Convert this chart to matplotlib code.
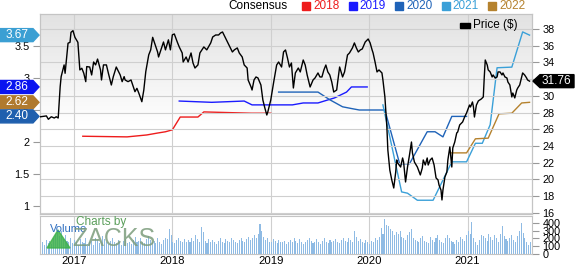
import numpy as np
import matplotlib.pyplot as plt
from matplotlib.patches import Polygon, Rectangle
from matplotlib.colors import LinearSegmentedColormap
from matplotlib.transforms import IdentityTransform

plt.rcParams['font.family'] = ['Liberation Sans', 'DejaVu Sans']

# price ($), decimal year
price_t = [2016.66, 2016.72, 2016.74, 2016.77, 2016.80, 2016.82, 2016.84, 2016.86, 2016.87, 2016.90,
           2016.91, 2016.94, 2016.96, 2016.97, 2016.99, 2017.01, 2017.04, 2017.06, 2017.08, 2017.10,
           2017.12, 2017.13, 2017.16, 2017.18, 2017.20, 2017.22, 2017.24, 2017.27, 2017.28, 2017.30,
           2017.33, 2017.35, 2017.38, 2017.40, 2017.43, 2017.47, 2017.49, 2017.51, 2017.52, 2017.55,
           2017.58, 2017.62, 2017.64, 2017.66, 2017.69, 2017.71, 2017.73, 2017.76, 2017.78, 2017.80,
           2017.82, 2017.85, 2017.86, 2017.89, 2017.91, 2017.93, 2017.96, 2017.98, 2018.00, 2018.02,
           2018.05, 2018.07, 2018.10, 2018.11, 2018.14, 2018.16, 2018.19, 2018.21, 2018.23, 2018.26,
           2018.28, 2018.32, 2018.35, 2018.39, 2018.41, 2018.44, 2018.47, 2018.49, 2018.51, 2018.54,
           2018.56, 2018.59, 2018.61, 2018.63, 2018.66, 2018.68, 2018.71, 2018.73, 2018.76, 2018.77,
           2018.80, 2018.81, 2018.83, 2018.85, 2018.87, 2018.90, 2018.92, 2018.94, 2018.96, 2018.97,
           2019.00, 2019.03, 2019.06, 2019.08, 2019.11, 2019.13, 2019.15, 2019.17, 2019.19, 2019.21,
           2019.23, 2019.25, 2019.28, 2019.30, 2019.33, 2019.35, 2019.37, 2019.40, 2019.43, 2019.45,
           2019.48, 2019.50, 2019.52, 2019.54, 2019.56, 2019.58, 2019.60, 2019.62, 2019.64, 2019.67,
           2019.68, 2019.70, 2019.73, 2019.75, 2019.78, 2019.80, 2019.83, 2019.85, 2019.87, 2019.89,
           2019.91, 2019.93, 2019.96, 2019.99, 2020.01, 2020.03, 2020.04, 2020.06, 2020.08, 2020.10,
           2020.13, 2020.14, 2020.16, 2020.18, 2020.19, 2020.21, 2020.23, 2020.25, 2020.27, 2020.28,
           2020.29, 2020.32, 2020.34, 2020.35, 2020.37, 2020.39, 2020.41, 2020.43, 2020.44, 2020.46,
           2020.49, 2020.52, 2020.54, 2020.55, 2020.57, 2020.59, 2020.60, 2020.62, 2020.64, 2020.66,
           2020.68, 2020.70, 2020.71, 2020.73, 2020.74, 2020.75, 2020.77, 2020.79, 2020.80, 2020.82,
           2020.84, 2020.85, 2020.87, 2020.89, 2020.90, 2020.92, 2020.95, 2020.97, 2020.99, 2021.02,
           2021.03, 2021.05, 2021.06, 2021.07, 2021.09, 2021.11, 2021.14, 2021.16, 2021.17, 2021.18,
           2021.20, 2021.21, 2021.23, 2021.25, 2021.26, 2021.28, 2021.30, 2021.31, 2021.33, 2021.35,
           2021.36, 2021.38, 2021.40, 2021.41, 2021.43, 2021.45, 2021.46, 2021.48, 2021.50, 2021.51,
           2021.53, 2021.55, 2021.56, 2021.58, 2021.60, 2021.61, 2021.63]
price = [27.5, 27.6, 27.2, 27.5, 27.35, 27.5, 27.35, 31.1, 32.3, 33.7,
         32.7, 36.3, 36.4, 37.6, 37.8, 37.0, 36.4, 33.1, 33.3, 32.7,
         31.7, 33.5, 33.45, 32.5, 34.05, 33.7, 34.4, 33.1, 31.9, 33.7,
         33.7, 32.7, 31.3, 32.3, 33.45, 32.5, 31.7, 32.3, 31.9, 31.7,
         31.9, 30.5, 30.9, 30.3, 29.3, 30.7, 32.9, 34.9, 35.5, 37.0,
         36.3, 35.25, 34.65, 35.73, 36.44, 35.5, 36.7, 35.5, 37.3, 37.4,
         36.44, 35.85, 35.13, 34.05, 34.65, 34.05, 35.13, 33.93, 33.33, 33.7,
         35.13, 35.85, 35.5, 36.33, 37.04, 37.28, 37.28, 37.52, 37.64, 36.92,
         36.44, 35.73, 35.25, 35.5, 35.73, 35.13, 34.65, 33.7, 33.33, 31.9,
         31.06, 30.7, 31.9, 32.26, 32.14, 31.3, 29.5, 28.55, 27.71, 28.07,
         29.5, 31.66, 33.69, 34.05, 33.45, 35.25, 35.49, 34.53, 33.45, 33.93,
         30.94, 32.74, 33.33, 32.86, 34.29, 33.69, 32.5, 31.06, 31.9, 32.14,
         32.74, 32.26, 32.26, 33.1, 33.69, 32.86, 32.5, 31.66, 30.46, 30.7,
         31.66, 33.45, 32.26, 32.86, 34.89, 35.13, 35.73, 36.33, 35.73, 35.25,
         35.49, 35.61, 36.44, 36.8, 36.33, 35.49, 35.13, 34.05, 32.86, 33.1,
         32.74, 31.9, 29.87, 26.28, 23.53, 21.13, 19.94, 18.98, 20.89, 22.33,
         21.97, 21.49, 22.57, 22.09, 19.7, 21.49, 22.93, 24.48, 23.17, 22.09,
         21.49, 20.54, 21.37, 22.33, 21.73, 22.57, 21.73, 22.33, 22.57, 21.73,
         20.18, 19.94, 19.34, 18.74, 17.55, 18.74, 20.3, 20.89, 22.33, 23.89,
         21.49, 23.77, 24.48, 25.56, 25.68, 26.52, 26.88, 27.47, 27.95, 28.9,
         28.67, 29.27, 28.67, 27.47, 28.9, 29.4, 29.63, 29.87, 32.26, 34.29,
         33.69, 33.1, 32.86, 32.26, 32.5, 32.14, 32.26, 32.86, 32.86, 32.5,
         32.74, 32.26, 32.14, 31.66, 31.3, 29.87, 30.34, 29.75, 30.7, 30.94,
         31.3, 32.26, 32.74, 32.5, 32.14, 31.9, 31.76]

# consensus EPS estimates per fiscal year
t_2018 = [2017.09, 2017.54, 2017.74, 2017.85, 2017.93, 2018.00, 2018.08, 2018.26, 2018.32, 2018.80, 2019.00]
eps_2018 = [2.09, 2.08, 2.11, 2.14, 2.16, 2.19, 2.39, 2.39, 2.47, 2.45, 2.45]
t_2019 = [2018.07, 2018.40, 2018.73, 2018.81, 2019.22, 2019.33, 2019.48, 2019.65, 2019.77, 2019.82, 2019.98]
eps_2019 = [2.64, 2.62, 2.64, 2.58, 2.58, 2.61, 2.61, 2.69, 2.78, 2.86, 2.86]
t_2020 = [2019.08, 2019.48, 2019.60, 2019.73, 2019.83, 2019.90, 2020.16, 2020.31, 2020.41,
          2020.59, 2020.67, 2020.75, 2020.84, 2020.99]
eps_2020 = [2.78, 2.78, 2.66, 2.55, 2.52, 2.50, 2.50, 1.66, 1.66, 2.16, 2.16, 2.08, 2.40, 2.40]
t_2021 = [2020.14, 2020.33, 2020.39, 2020.49, 2020.65, 2020.84, 2020.99, 2021.08, 2021.15,
          2021.23, 2021.30, 2021.45, 2021.56, 2021.63]
eps_2021 = [2.58, 1.22, 1.20, 1.09, 1.09, 1.69, 1.69, 1.98, 1.98, 2.27, 3.16, 3.17, 3.72, 3.67]
t_2022 = [2020.83, 2020.99, 2021.08, 2021.21, 2021.32, 2021.45, 2021.55, 2021.63]
eps_2022 = [1.83, 1.83, 2.05, 2.06, 2.44, 2.45, 2.61, 2.62]

series_years = ['2018', '2019', '2020', '2021', '2022']
series_colors = ['#ee1c1c', '#1a1aff', '#1f63b8', '#3aa0d8', '#b5822e']
badge_values = [3.67, 2.86, 2.62, 2.40]
badge_colors = ['#3b9fd3', '#0a14f0', '#b07a2e', '#1f5fae']
last_price = 31.76

# weekly volume (thousands)
vol_start = 2016.66
volume = [120, 150, 110, 180, 140, 170, 130, 200, 260, 280, 230, 300, 190, 250, 170, 160, 210, 140, 180, 150, 120, 190, 160, 140, 200, 130,
          150, 170, 120, 210, 180, 140, 160, 230, 190, 150, 130, 170, 200, 160, 140, 180, 150, 120, 170, 190, 140, 160, 130, 180, 220, 150,
          170, 200, 160, 140, 190, 230, 180, 150, 170, 140, 200, 160, 130, 180, 210, 190, 320, 240, 160, 140, 180, 200, 170, 150, 190, 160,
          180, 150, 200, 170, 240, 190, 160, 350, 280, 170, 140, 190, 160, 180, 150, 130, 170, 200, 160, 140, 190, 170, 150, 210, 180, 160,
          140, 180, 200, 170, 150, 190, 220, 180, 200, 240, 210, 260, 390, 300, 220, 180, 200, 160, 150, 190, 170, 140, 180, 160, 150, 170,
          130, 160, 180, 150, 200, 170, 140, 190, 160, 130, 150, 180, 200, 170, 140, 160, 190, 150, 130, 170, 200, 160, 140, 180, 150, 170,
          190, 160, 140, 180, 210, 170, 150, 200, 180, 160, 300, 220, 170, 190, 160, 140, 180, 150, 130, 170, 160, 200, 180, 220, 330, 260,
          450, 380, 360, 320, 300, 250, 280, 260, 300, 220, 200, 180, 250, 280, 320, 200, 180, 170, 150, 200, 230, 170, 160, 140, 220, 180,
          150, 200, 240, 180, 160, 140, 200, 250, 210, 170, 150, 130, 180, 160, 220, 190, 170, 240, 300, 260, 410, 200, 150, 120, 180, 250,
          230, 200, 170, 260, 220, 180, 240, 200, 150, 260, 360, 230, 190, 170, 200, 250, 180, 160, 230, 300, 400, 270, 200, 150, 120, 160]
vol_t = vol_start + np.arange(len(volume)) / 52.0

W, H = 577, 265
fig = plt.figure(figsize=(W / 100, H / 100), dpi=100)


def box(l, t, r, b):
    return [l / W, 1 - b / H, (r - l) / W, (b - t) / H]


ax = fig.add_axes(box(40, 14, 532, 214))
ax2 = ax.twinx()
axv = fig.add_axes(box(40, 216, 532, 254))
xlim = (2016.655, 2021.655)
grid_c = '#cfcfcf'
tick_c = '#999999'

# background gradient
g = np.clip(np.linspace(0, 1.8, 200), 0, 1)[:, None]
cmap = LinearSegmentedColormap.from_list('bg', ['#e2e2e2', '#ffffff'])
ax.imshow(g, extent=[xlim[0], xlim[1], 0.875, 4.0], aspect='auto', cmap=cmap, zorder=0, origin='upper')

for t, e, c in zip([t_2018, t_2019, t_2020, t_2021, t_2022],
                   [eps_2018, eps_2019, eps_2020, eps_2021, eps_2022], series_colors):
    ax.plot(t, e, color=c, lw=1.0, zorder=3)
ax2.plot(price_t, price, color='black', lw=1.0, zorder=4)

ax.set_xlim(*xlim)
ax.set_ylim(0.875, 4.0)
ax2.set_ylim(15.87, 39.79)
ax.set_yticks([1, 1.5, 2, 2.5, 3, 3.5])
ax.set_yticklabels(['1', '1.5', '2', '2.5', '3', '3.5'])
ax2.set_yticks(range(16, 39, 2))
years = [2017, 2018, 2019, 2020, 2021]
ax.set_xticks(years)
ax.set_xticklabels([])
ax.tick_params(axis='x', length=0)
ax.grid(axis='x', color=grid_c, lw=0.8)
ax2.grid(axis='y', color=grid_c, lw=0.8)
ax.tick_params(axis='y', length=5, color=tick_c, labelsize=7.8, pad=2.5)
ax2.tick_params(axis='y', length=5, color=tick_c, labelsize=7.8, pad=2.5)
for a in (ax, ax2, axv):
    for s in a.spines.values():
        s.set_color('#c4c4c4')
        s.set_linewidth(0.8)

# volume panel
axv.bar(vol_t, volume, width=0.55 / 52, color='#8fbbe4', zorder=2)
axv.set_xlim(*xlim)
axv.set_ylim(0, 490)
axv.yaxis.tick_right()
axv.set_yticks([0, 100, 200, 300, 400])
axv.tick_params(axis='y', length=5, color=tick_c, labelsize=7.8, pad=2.5)
axv.set_xticks(years)
axv.set_xticklabels([str(y) for y in years])
axv.tick_params(axis='x', length=0, labelsize=8.2, pad=1.5)
axv.grid(axis='x', color=grid_c, lw=0.8)
axv.set_axisbelow(True)

ident = IdentityTransform()


def fy(top):
    return H - top


# top legend
fig.text(228, fy(6), 'Consensus', transform=ident, fontsize=8.5, va='center', ha='left')
for i, (lab, c) in enumerate(zip(series_years, series_colors)):
    x0 = 302 + i * 46.5
    fig.patches.append(Rectangle((x0, fy(10)), 8, 8, color=c, transform=ident))
    fig.text(x0 + 11, fy(6), lab, transform=ident, fontsize=8.5, va='center', ha='left', color=c)

# price legend
fig.patches.append(Rectangle((460, fy(27.5)), 10, 5, color='black', transform=ident))
fig.text(473, fy(25), 'Price ($)', transform=ident, fontsize=8.5, va='center', ha='left')

# left badges
for v, c in zip(badge_values, badge_colors):
    yc = ax.transData.transform((xlim[0], v))[1]
    pts = [(0, yc - 6.5), (33, yc - 6.5), (39, yc), (33, yc + 6.5), (0, yc + 6.5)]
    fig.patches.append(Polygon(pts, closed=True, color=c, transform=ident, zorder=10))
    fig.text(17, yc, f'{v:.2f}', transform=ident, fontsize=8.5, color='white',
             va='center', ha='center', zorder=11)

# right badge
yc = ax2.transData.transform((xlim[1], last_price))[1]
pts = [(533, yc), (540, yc - 6.5), (574, yc - 6.5), (574, yc + 6.5), (540, yc + 6.5)]
fig.patches.append(Polygon(pts, closed=True, color='black', transform=ident, zorder=10))
fig.text(556, yc, f'{last_price:.2f}', transform=ident, fontsize=8.5, color='white',
         va='center', ha='center', zorder=11)

# watermark
fig.patches.append(Polygon([(47, fy(248)), (58, fy(230)), (70, fy(248))], closed=True,
                           color='#3fb24a', alpha=0.85, transform=ident, zorder=5))
fig.text(50, fy(229), 'Volume', transform=ident, fontsize=8, color='#2f6fc0', va='center', zorder=6)
fig.text(76, fy(222), 'Charts by', transform=ident, fontsize=8.5, color='#5a9e5a', va='center', zorder=6)
fig.text(72, fy(239), 'ZACKS', transform=ident, fontsize=18, color='#7c9c7c', alpha=0.85,
         va='center', zorder=6)

fig.savefig('out.png', dpi=100)
